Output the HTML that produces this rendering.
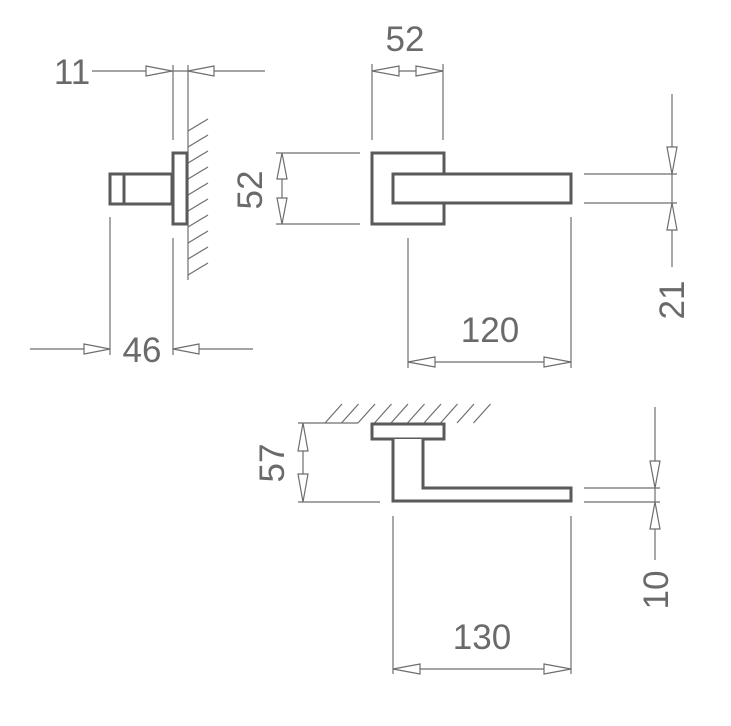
<!DOCTYPE html>
<html><head><meta charset="utf-8"><style>
html,body{margin:0;padding:0;background:#fff;}
svg{display:block;}
text{font-family:"Liberation Sans",sans-serif;font-size:35px;fill:#6a6a6a;}
</style></head><body>
<svg width="731" height="726" viewBox="0 0 731 726" xmlns="http://www.w3.org/2000/svg">
<g stroke="#6e6e6e" stroke-width="1.2" fill="none">
<!-- side view 11 -->
<line x1="92" y1="71" x2="265" y2="71"/>
<polygon points="146,66 172,71 146,76" fill="#fff"/>
<polygon points="214,66 188,71 214,76" fill="#fff"/>
<line x1="173" y1="65" x2="173" y2="140"/>
<line x1="188" y1="65" x2="188" y2="280"/>
<!-- wall hatch -->
<line x1="188" y1="131" x2="208" y2="119"/>
<line x1="188" y1="147" x2="208" y2="135"/>
<line x1="188" y1="163" x2="208" y2="151"/>
<line x1="188" y1="179" x2="208" y2="167"/>
<line x1="188" y1="195" x2="208" y2="183"/>
<line x1="188" y1="211" x2="208" y2="199"/>
<line x1="188" y1="227" x2="208" y2="215"/>
<line x1="188" y1="243" x2="208" y2="231"/>
<line x1="188" y1="259" x2="208" y2="247"/>
<line x1="188" y1="275" x2="208" y2="263"/>
<!-- 46 -->
<line x1="110" y1="217" x2="110" y2="355"/>
<line x1="173" y1="238" x2="173" y2="355"/>
<line x1="30" y1="349" x2="110" y2="349"/>
<polygon points="84,344 110,349 84,354" fill="#fff"/>
<line x1="173" y1="349" x2="253" y2="349"/>
<polygon points="199,344 173,349 199,354" fill="#fff"/>
<!-- left 52 -->
<line x1="276" y1="153" x2="360" y2="153"/>
<line x1="276" y1="224" x2="360" y2="224"/>
<line x1="282" y1="153" x2="282" y2="224"/>
<polygon points="277,179 282,153 287,179" fill="#fff"/>
<polygon points="277,198 282,224 287,198" fill="#fff"/>
<!-- top 52 -->
<line x1="372" y1="64" x2="372" y2="140"/>
<line x1="443" y1="64" x2="443" y2="140"/>
<line x1="372" y1="71" x2="443" y2="71"/>
<polygon points="399,66 372,71 399,76" fill="#fff"/>
<polygon points="416,66 443,71 416,76" fill="#fff"/>
<!-- 120 -->
<line x1="408" y1="238" x2="408" y2="368"/>
<line x1="571" y1="217" x2="571" y2="368"/>
<line x1="408" y1="362" x2="571" y2="362"/>
<polygon points="435,357 408,362 435,367" fill="#fff"/>
<polygon points="544,357 571,362 544,367" fill="#fff"/>
<!-- 21 -->
<line x1="584" y1="174" x2="677" y2="174"/>
<line x1="584" y1="203" x2="677" y2="203"/>
<line x1="672" y1="94" x2="672" y2="267"/>
<polygon points="667,147 672,174 677,147" fill="#fff"/>
<polygon points="667,230 672,203 677,230" fill="#fff"/>
<!-- ceiling -->
<line x1="298" y1="423" x2="358" y2="423"/>
<line x1="325" y1="423" x2="342" y2="404"/>
<line x1="341.5" y1="423" x2="358.5" y2="404"/>
<line x1="358" y1="423" x2="375" y2="404"/>
<line x1="374.5" y1="423" x2="391.5" y2="404"/>
<line x1="391" y1="423" x2="408" y2="404"/>
<line x1="407.5" y1="423" x2="424.5" y2="404"/>
<line x1="424" y1="423" x2="441" y2="404"/>
<line x1="440.5" y1="423" x2="457.5" y2="404"/>
<line x1="457" y1="423" x2="474" y2="404"/>
<line x1="473.5" y1="423" x2="490.5" y2="404"/>
<!-- 57 -->
<line x1="298" y1="502" x2="380" y2="502"/>
<line x1="303" y1="423" x2="303" y2="502"/>
<polygon points="298,451 303,423 308,451" fill="#fff"/>
<polygon points="298,474 303,502 308,474" fill="#fff"/>
<!-- 10 -->
<line x1="584" y1="488" x2="660" y2="488"/>
<line x1="584" y1="502" x2="660" y2="502"/>
<line x1="655" y1="407" x2="655" y2="560"/>
<polygon points="650,461 655,488 660,461" fill="#fff"/>
<polygon points="650,529 655,502 660,529" fill="#fff"/>
<!-- 130 -->
<line x1="393" y1="516" x2="393" y2="674"/>
<line x1="571" y1="516" x2="571" y2="674"/>
<line x1="393" y1="669" x2="571" y2="669"/>
<polygon points="420,664 393,669 420,674" fill="#fff"/>
<polygon points="544,664 571,669 544,674" fill="#fff"/>
</g>
<g stroke="#5a5a5a" stroke-width="3" fill="#fff">
<!-- side view -->
<rect x="110" y="174" width="62" height="30"/>
<line x1="124" y1="174" x2="124" y2="204"/>
<rect x="173" y="153" width="14" height="71"/>
<!-- front view -->
<rect x="372" y="153" width="72" height="71"/>
<rect x="393" y="174" width="178" height="29"/>
<!-- bottom view -->
<rect x="372" y="424" width="72" height="15"/>
<path d="M393,439 L393,501 L571,501 L571,488 L423,488 L423,439"/>
</g>
<text x="72" y="84" text-anchor="middle">11</text>
<text x="142" y="362" text-anchor="middle">46</text>
<text x="405" y="51" text-anchor="middle">52</text>
<text x="490" y="342" text-anchor="middle">120</text>
<text x="482" y="649" text-anchor="middle">130</text>
<text transform="translate(262,190) rotate(-90)" text-anchor="middle">52</text>
<text transform="translate(684,300) rotate(-90)" text-anchor="middle">21</text>
<text transform="translate(284,463) rotate(-90)" text-anchor="middle">57</text>
<text transform="translate(668,590) rotate(-90)" text-anchor="middle">10</text>
</svg>
</body></html>
